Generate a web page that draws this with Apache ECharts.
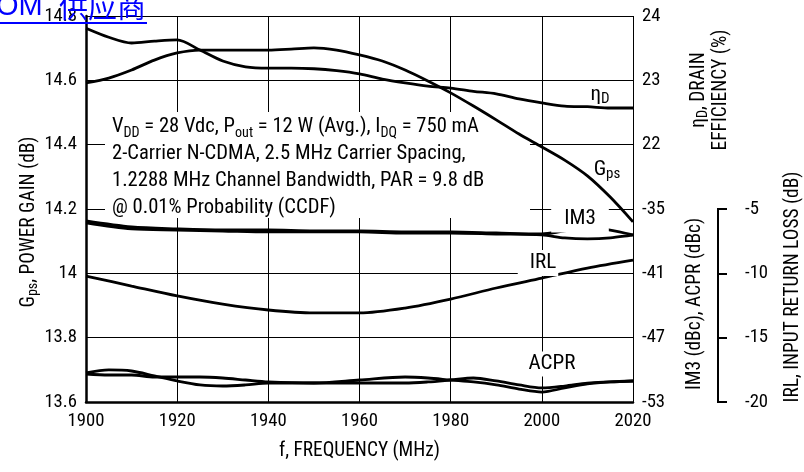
<!DOCTYPE html>
<html><head><meta charset="utf-8">
<script src="https://cdn.jsdelivr.net/npm/echarts@6/dist/echarts.min.js"></script>
<style>html,body{margin:0;padding:0;background:#fff}#c{width:804px;height:472px}</style>
</head><body><div id="c"></div>
<script>
// ---- data ----
const gpsFreq = [1900,1905,1910,1915,1920,1925,1930,1935,1940,1945,1950,1955,1960,1965,1970,1975,1980,1985,1990,1995,2000,2005,2010,2015,2020];
const gpsValues = [14.592,14.607,14.632,14.663,14.685,14.694,14.694,14.694,14.694,14.697,14.701,14.694,14.679,14.660,14.632,14.598,14.561,14.520,14.477,14.433,14.393,14.352,14.303,14.237,14.160];
const effFreq = [1900,1905,1910,1915,1920,1925,1930,1935,1940,1945,1950,1955,1960,1965,1970,1975,1980,1985,1990,1995,2000,2005,2010,2015,2020];
const effValues = [23.81,23.67,23.58,23.61,23.63,23.47,23.30,23.21,23.19,23.19,23.18,23.15,23.10,23.02,22.96,22.91,22.88,22.83,22.79,22.71,22.65,22.60,22.59,22.57,22.57];
const im3Freq = [1900,1910,1920,1930,1940,1950,1960,1970,1980,1990,2000,2005,2010,2015,2020];
const im3Upper = [-36.12,-36.68,-36.86,-36.96,-36.96,-37.05,-37.05,-37.14,-37.14,-37.24,-37.33,-37.05,-36.86,-36.96,-37.42];
const im3Lower = [-36.30,-36.86,-36.96,-37.05,-37.14,-37.14,-37.14,-37.24,-37.24,-37.33,-37.42,-37.70,-37.79,-37.70,-37.42];
const irlFreq = [1900,1910,1920,1930,1940,1950,1960,1970,1980,1990,2000,2010,2020];
const irlValues = [-10.21,-10.99,-11.76,-12.39,-12.85,-13.08,-13.08,-12.70,-12.00,-11.14,-10.37,-9.59,-8.97];
const acprFreq = [1900,1905,1910,1915,1920,1925,1930,1935,1940,1950,1960,1970,1975,1980,1985,1990,1995,2000,2005,2010,2015,2020];
const acprA = [-50.29,-50.01,-50.11,-50.57,-51.04,-51.41,-51.51,-51.41,-51.23,-51.23,-50.95,-50.67,-50.76,-50.95,-51.13,-51.41,-51.79,-52.07,-51.69,-51.32,-51.13,-51.04];
const acprB = [-50.39,-50.48,-50.48,-50.67,-50.67,-50.67,-50.76,-50.95,-51.13,-51.23,-51.23,-51.23,-51.13,-50.95,-50.76,-51.04,-51.41,-51.69,-51.51,-51.23,-51.13,-51.04];
const effTickLabels = [22,23,24];
const imdTickLabels = [-53,-47,-41,-35];
const irlTickLabels = [-20,-15,-10,-5];

// ---- pick a condensed sans-serif face if one is installed ----
const mctx = document.createElement('canvas').getContext('2d');
function tw(font, t){ mctx.font = font; return mctx.measureText(t).width; }
const probe = 'FREQUENCY 1920 Carrier Spacing';
let FAM = "'Liberation Sans', Arial, sans-serif", WGT = 'normal';
(function(){
  const baseW = tw("20px 'Liberation Sans'", probe);
  const mono = tw('20px monospace', probe);
  const named = ["'Liberation Sans Narrow'","'Arial Narrow'","'Roboto Condensed'","'DejaVu Sans Condensed'","'Open Sans Condensed'","'Noto Sans Condensed'"];
  for (const f of named) {
    const a = tw('20px ' + f + ', monospace', probe);
    if (Math.abs(a - mono) > 0.5 && a < baseW * 0.93) { FAM = f + ', sans-serif'; return; }
  }
  for (const f of ["'Open Sans'","'Noto Sans'","Roboto","'DejaVu Sans'","Inter"]) {
    const a = tw('condensed 20px ' + f, probe), b = tw('20px ' + f, probe);
    if (a < b * 0.95) { FAM = f + ', sans-serif'; WGT = 'condensed'; return; }
  }
})();
const fontStr = (px) => (WGT === 'normal' ? '' : WGT + ' ') + px + 'px ' + FAM;
let K = 37 / tw(fontStr(20), '1920');
K = Math.max(0.78, Math.min(1.08, K));
const S = (px) => Math.round(px * K * 10) / 10;

const pairs = (xs, ys) => xs.map((x, i) => [x, ys[i]]);
const chart = echarts.init(document.getElementById('c'));

const labelStyle = { color:'#000', fontFamily:FAM, fontWeight:WGT, fontSize:S(20) };
const tok = (px, lh, extra) => Object.assign({ fontFamily:FAM, fontWeight:WGT, fontSize:px, color:'#000', lineHeight:lh }, extra || {});

function lineSeries(name, xs, ys, axis) {
  return { name, type:'line', yAxisIndex:axis, data:pairs(xs, ys), smooth:0.3,
    symbol:'none', lineStyle:{ color:'#000', width:2.8 }, z:3, silent:true, animation:false };
}

chart.setOption({
  animation:false,
  backgroundColor:'#fff',
  grid:{ left:86, right:171, top:16, bottom:70, show:false },
  xAxis:{
    type:'value', min:1900, max:2020, interval:20,
    axisLine:{ show:true, onZero:false, lineStyle:{ color:'#000', width:2.5 } },
    axisTick:{ show:false },
    splitLine:{ show:true, lineStyle:{ color:'#000', width:1 } },
    axisLabel:Object.assign({ margin:10, formatter:(v) => String(v) }, labelStyle),
    name:'f, FREQUENCY (MHz)', nameLocation:'middle', nameGap:40,
    nameTextStyle:{ fontFamily:FAM, fontWeight:WGT, fontSize:S(20.7), color:'#000' }
  },
  yAxis:[
    { type:'value', min:13.6, max:14.8, interval:0.2, position:'left',
      axisLine:{ show:true, onZero:false, lineStyle:{ color:'#000', width:2.5 } },
      axisTick:{ show:false },
      splitLine:{ show:true, lineStyle:{ color:'#000', width:1 } },
      axisLabel:Object.assign({ margin:9 }, labelStyle)
    },
    { type:'value', min:18, max:24, interval:1, position:'right',
      axisLine:{ show:false }, axisTick:{ show:false }, splitLine:{ show:false },
      axisLabel:Object.assign({ margin:9, customValues:effTickLabels }, labelStyle)
    },
    { type:'value', min:-53, max:-17, interval:6, position:'right',
      axisLine:{ show:false }, axisTick:{ show:false }, splitLine:{ show:false },
      axisLabel:Object.assign({ margin:9, customValues:imdTickLabels }, labelStyle)
    },
    { type:'value', min:-20, max:10, interval:5, position:'right', offset:85,
      axisLine:{ show:false },
      axisTick:{ show:true, length:9, customValues:irlTickLabels, lineStyle:{ color:'#000', width:2 } },
      splitLine:{ show:false },
      axisLabel:Object.assign({ margin:27, customValues:irlTickLabels }, labelStyle)
    }
  ],
  series:[
    lineSeries('Gps', gpsFreq, gpsValues, 0),
    lineSeries('ηD', effFreq, effValues, 1),
    lineSeries('IM3 upper', im3Freq, im3Upper, 2),
    lineSeries('IM3 lower', im3Freq, im3Lower, 2),
    lineSeries('ACPR a', acprFreq, acprA, 2),
    lineSeries('ACPR b', acprFreq, acprB, 2),
    lineSeries('IRL', irlFreq, irlValues, 3)
  ]
});

// partial IRL axis line, from the axis scale
const gridRight = 804 - 171;
const irlX = gridRight + 85;
const irlTop = chart.convertToPixel({ yAxisIndex:3 }, -5);
const irlBottom = chart.convertToPixel({ yAxisIndex:3 }, -20);

const richAnno = { m:tok(S(22), 27), s:tok(S(15), 13, { verticalAlign:'bottom' }) };
const richLbl = { m:tok(S(22.5), 24), s:tok(S(16), 13, { verticalAlign:'bottom' }) };
const richTitle = { m:tok(S(20.7), 22), s:tok(S(15), 10, { verticalAlign:'bottom' }) };
const plainLbl = (txt, x, y, pad) => ({ type:'text', x, y, z:4, silent:true,
  style:{ text:txt, fontFamily:FAM, fontWeight:WGT, fontSize:S(22.5), fill:'#000', align:'center', verticalAlign:'middle',
    backgroundColor:'#fff', padding:pad } });

chart.setOption({
  graphic:[
    { type:'rect', shape:{ x:105, y:112, width:425, height:106 }, style:{ fill:'#fff' }, z:1, silent:true },
    { type:'text', x:112, y:113, z:4, silent:true,
      style:{ text:[
        '{m|V}{s|DD}{m| = 28 Vdc, P}{s|out}{m| = 12 W (Avg.), I}{s|DQ}{m| = 750 mA}',
        '{m|2-Carrier N-CDMA, 2.5 MHz Carrier Spacing,}',
        '{m|1.2288 MHz Channel Bandwidth, PAR = 9.8 dB}',
        '{m|@ 0.01% Probability (CCDF)}'].join('\n'),
        rich:richAnno, align:'left', verticalAlign:'top' } },
    { type:'text', x:600, y:95, z:4, silent:true,
      style:{ text:'{m|η}{s|D}', rich:richLbl, align:'center', verticalAlign:'middle' } },
    { type:'text', x:607, y:170, z:4, silent:true,
      style:{ text:'{m|G}{s|ps}', rich:richLbl, align:'center', verticalAlign:'middle' } },
    plainLbl('IM3', 580, 219, [4,13,2,13]),
    plainLbl('IRL', 538, 263, [0,2,5,12]),
    plainLbl('ACPR', 552, 364, [4,2,0,2]),
    // axis titles
    { type:'text', x:29, y:222, rotation:Math.PI/2, z:4, silent:true,
      style:{ text:'{m|G}{s|ps}{m|, POWER GAIN (dB)}', rich:richTitle, align:'center', verticalAlign:'middle' } },
    { type:'text', x:710, y:90, rotation:Math.PI/2, z:4, silent:true,
      style:{ text:'{m|η}{s|D}{m|, DRAIN}\n{m|EFFICIENCY (%)}', rich:richTitle, align:'center', verticalAlign:'middle' } },
    { type:'text', x:695, y:304, rotation:Math.PI/2, z:4, silent:true,
      style:{ text:'IM3 (dBc), ACPR (dBc)', fontFamily:FAM, fontWeight:WGT, fontSize:S(20.7), fill:'#000', align:'center', verticalAlign:'middle' } },
    { type:'text', x:793, y:287, rotation:Math.PI/2, z:4, silent:true,
      style:{ text:'IRL, INPUT RETURN LOSS (dB)', fontFamily:FAM, fontWeight:WGT, fontSize:S(20.7), fill:'#000', align:'center', verticalAlign:'middle' } },
    { type:'line', shape:{ x1:irlX, y1:irlTop - 1, x2:irlX, y2:irlBottom + 1 }, style:{ stroke:'#000', lineWidth:2 }, z:4, silent:true },
    // watermark link text
    { type:'text', x:-4, y:21, z:5, silent:true,
      style:{ text:'OM', fontFamily:"'Liberation Sans',sans-serif", fontSize:29, fill:'#0000ff', align:'left', verticalAlign:'bottom' } },
    { type:'text', x:59, y:21, z:5, silent:true,
      style:{ text:'供应商', fontFamily:"'Noto Sans CJK SC',sans-serif", fontSize:29, fill:'#0000ff', align:'left', verticalAlign:'bottom' } },
    { type:'rect', shape:{ x:0, y:22, width:147, height:2 }, style:{ fill:'#0000ff' }, z:5, silent:true }
  ]
});
</script></body></html>
